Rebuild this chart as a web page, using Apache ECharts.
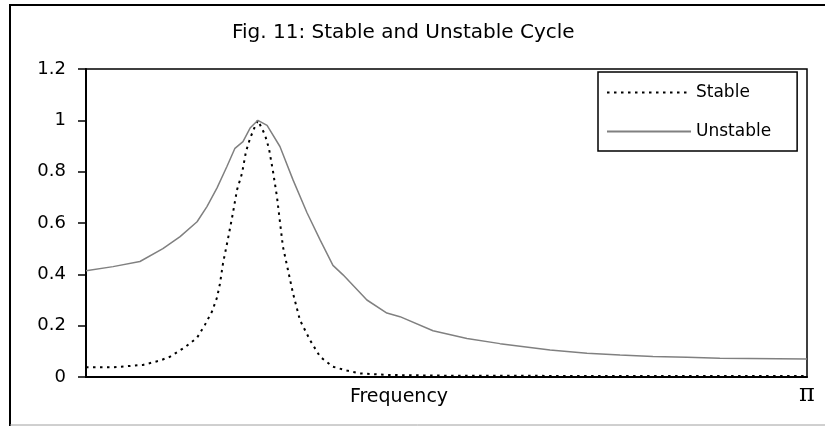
<!DOCTYPE html>
<html>
<head>
<meta charset="utf-8">
<script src="https://cdn.jsdelivr.net/npm/echarts@6/dist/echarts.min.js"></script>
<style>
  html, body { margin: 0; padding: 0; background: #fff; }
  #chart { width: 825px; height: 426px; }
</style>
</head>
<body>
<div id="chart"></div>
<script>
// frequency (radians, 0..pi)
const stableX = [0, 0.118, 0.248, 0.322, 0.366, 0.431, 0.484, 0.518, 0.549, 0.571, 0.584, 0.597, 0.619, 0.64, 0.658, 0.68, 0.697, 0.715, 0.736, 0.749, 0.78, 0.797, 0.815, 0.832, 0.845, 0.858, 0.88, 0.902, 0.932, 0.976, 1.02, 1.076, 1.137, 1.194, 1.311, 1.586, 2.24, 3.1416]
const stableY = [0.038, 0.038, 0.047, 0.064, 0.079, 0.116, 0.153, 0.203, 0.255, 0.31, 0.365, 0.443, 0.54, 0.638, 0.729, 0.794, 0.878, 0.93, 0.976, 1.0, 0.943, 0.891, 0.80, 0.703, 0.605, 0.508, 0.417, 0.326, 0.222, 0.144, 0.079, 0.04, 0.025, 0.014, 0.008, 0.005, 0.004, 0.004]

const unstableX = [0, 0.118, 0.235, 0.335, 0.41, 0.484, 0.527, 0.571, 0.614, 0.649, 0.684, 0.715, 0.749, 0.789, 0.845, 0.902, 0.963, 1.02, 1.076, 1.12, 1.224, 1.311, 1.368, 1.512, 1.66, 1.804, 2.022, 2.183, 2.327, 2.47, 2.619, 2.762, 3.1416]
const unstableY = [0.414, 0.43, 0.45, 0.50, 0.547, 0.605, 0.664, 0.737, 0.82, 0.891, 0.917, 0.97, 1.0, 0.98, 0.898, 0.768, 0.64, 0.534, 0.435, 0.398, 0.30, 0.249, 0.235, 0.18, 0.15, 0.13, 0.105, 0.093, 0.086, 0.08, 0.077, 0.073, 0.070]

const yTicks = [0, 0.2, 0.4, 0.6, 0.8, 1, 1.2]
const xTickLabels = ['', 'π']

const FONT = 'DejaVu Sans'

function pairs(xs, ys) {
    return xs.map((x, i) => [x, ys[i]])
}

const chart = echarts.init(document.getElementById('chart'))

const option = {
    animation: false,
    backgroundColor: '#fff',
    textStyle: { fontFamily: FONT, color: '#000' },
    title: {
        text: 'Fig. 11: Stable and Unstable Cycle',
        left: 232,
        top: 23,
        padding: 0,
        textStyle: { fontFamily: FONT, fontSize: 20, fontWeight: 'normal', color: '#000' }
    },
    legend: {
        orient: 'vertical',
        left: 598,
        top: 72,
        padding: [12, 26, 11, 8],
        itemWidth: 84,
        itemHeight: 20,
        itemGap: 22,
        itemTextGap: 5,
        backgroundColor: '#fff',
        borderColor: '#000',
        borderWidth: 1.5,
        borderRadius: 0,
        itemStyle: { opacity: 0 },
        textStyle: { fontFamily: FONT, fontSize: 17, color: '#000' },
        data: ['Stable', 'Unstable']
    },
    grid: {
        left: 86,
        top: 69,
        right: 18,
        bottom: 49,
        outerBoundsMode: 'none',
        containLabel: false,
        show: true,
        borderColor: '#000',
        borderWidth: 1.5
    },
    xAxis: {
        type: 'value',
        min: 0,
        max: Math.PI,
        interval: Math.PI,
        name: 'Frequency',
        nameLocation: 'middle',
        nameGap: 11,
        nameMoveOverlap: false,
        nameTextStyle: {
            fontFamily: FONT, fontSize: 19, color: '#000',
            verticalAlign: 'top', padding: [0, 95, 0, 0]
        },
        axisLine: { show: true, lineStyle: { color: '#000', width: 2 } },
        axisTick: { show: false },
        splitLine: { show: false },
        axisLabel: {
            margin: 6,
            fontFamily: 'DejaVu Serif',
            fontSize: 24,
            color: '#000',
            formatter: (v) => v > 3 ? xTickLabels[1] : xTickLabels[0]
        }
    },
    yAxis: {
        type: 'value',
        min: yTicks[0],
        max: yTicks[yTicks.length - 1],
        interval: 0.2,
        axisLine: { show: true, lineStyle: { color: '#000', width: 2 } },
        axisTick: { show: true, inside: false, length: 8, lineStyle: { color: '#000', width: 1.5 } },
        splitLine: { show: false },
        axisLabel: {
            margin: 20,
            fontFamily: FONT,
            fontSize: 18,
            color: '#000',
            formatter: (v) => String(Math.round(v * 10) / 10)
        }
    },
    series: [
        {
            name: 'Stable',
            type: 'line',
            symbol: 'none',
            data: pairs(stableX, stableY),
            lineStyle: { color: '#000', width: 2, type: [2.5, 4.5] },
            itemStyle: { color: '#000' }
        },
        {
            name: 'Unstable',
            type: 'line',
            symbol: 'none',
            data: pairs(unstableX, unstableY),
            lineStyle: { color: '#808080', width: 1.5, type: 'solid' },
            itemStyle: { color: '#808080' }
        }
    ],
    graphic: [
        {
            type: 'polyline',
            silent: true,
            shape: { points: [[10, 426], [10, 5], [825, 5]] },
            style: { stroke: '#000', lineWidth: 2, fill: null }
        },
        {
            type: 'line',
            silent: true,
            shape: { x1: 10, y1: 425, x2: 825, y2: 425 },
            style: { stroke: '#a0a0a0', lineWidth: 1 }
        }
    ]
}

chart.setOption(option)
</script>
</body>
</html>
